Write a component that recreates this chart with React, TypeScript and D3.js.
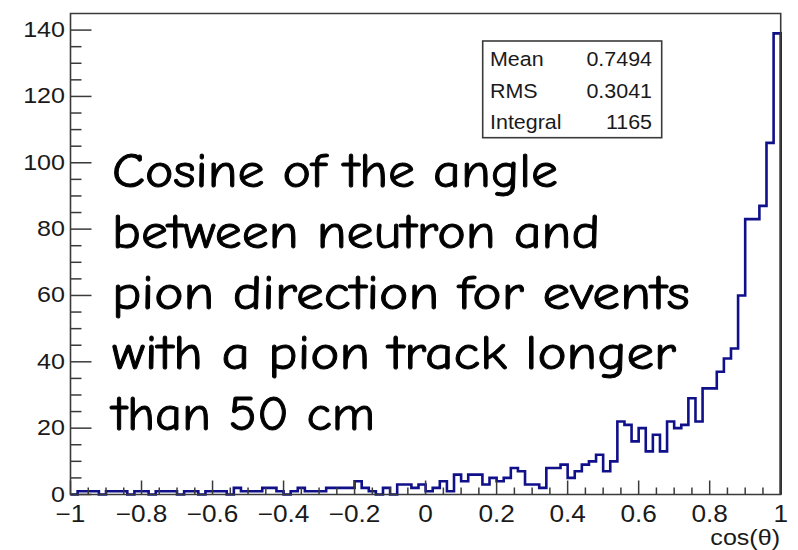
import React from "react";
import * as d3 from "d3";

// Histogram of cos(theta): 100 bins on [-1, 1]
const binLow = -1;
const binHigh = 1;
const counts: number[] = [
  // -1.0 .. -0.6
  0, 1, 1, 1, 0, 1, 1, 1, 0, 1, 1, 0, 1, 1, 1, 0, 1, 1, 0, 1,
  // -0.6 .. -0.2
  1, 1, 0, 2, 1, 1, 1, 2, 2, 1, 0, 1, 2, 1, 1, 1, 2, 2, 2, 2,
  // -0.2 .. 0.2
  4, 2, 1, 0, 2, 0, 3, 3, 2, 3, 1, 2, 4, 1, 6, 4, 6, 6, 3, 5,
  // 0.2 .. 0.6
  4, 5, 8, 7, 3, 3, 2, 8, 8, 9, 5, 7, 9, 10, 12, 7, 10, 22, 21, 16,
  // 0.6 .. 1.0
  20, 13, 18, 13, 22, 20, 21, 29, 22, 32, 32, 37, 41, 44, 60, 83, 83, 87, 106, 139,
];

const xMajorTicks = [-1, -0.8, -0.6, -0.4, -0.2, 0, 0.2, 0.4, 0.6, 0.8, 1];
const xTickLabels = ["\u22121", "\u22120.8", "\u22120.6", "\u22120.4", "\u22120.2", "0", "0.2", "0.4", "0.6", "0.8", "1"];
const yMajorTicks = [0, 20, 40, 60, 80, 100, 120, 140];
const yTickLabels = ["0", "20", "40", "60", "80", "100", "120", "140"];
const yMax = 145;

const statNames = ["Mean", "RMS", "Integral"];
const statValues = ["0.7494", "0.3041", "1165"];

const noteLines = [
  "Cosine of the angle",
  "between neutron and",
  "pion direction for events",
  "with a pion track longer",
  "than 50 cm",
];
const noteWidths = [446, 488, 578, 564, 263];

const W = 798;
const H = 550;
const frame = { left: 70.5, right: 780.7, top: 13.5, bottom: 494.5 };

const axisFont = "'Liberation Sans', Arial, Helvetica, sans-serif";
const noteFont = "'Comic Sans MS', 'Comic Neue', 'DejaVu Sans', sans-serif";
const histColor = "#10108a";
const frameColor = "#3a3a3a";
const textColor = "#1a1a1a";
const stretch = 1.14;

export default function App() {
  const x = d3.scaleLinear().domain([binLow, binHigh]).range([frame.left, frame.right]);
  const y = d3.scaleLinear().domain([0, yMax]).range([frame.bottom, frame.top]);

  const nBins = counts.length;
  const binW = (binHigh - binLow) / nBins;
  const pts: [number, number][] = [[x(binLow), y(0)]];
  counts.forEach((c, i) => {
    const lo = binLow + i * binW;
    pts.push([x(lo), y(c)]);
    pts.push([x(lo + binW), y(c)]);
  });
  pts.push([x(binHigh), y(0)]);
  const histPath = d3.line()(pts) ?? "";

  const xMinor = d3.range(0, 41).map((k) => -1 + k * 0.05);
  const yMinor = d3.range(0, 29).map((k) => k * 5);

  const box = { x0: 482.7, y0: 41, x1: 661.7, y1: 137.7 };

  return (
    <svg
      width={W}
      height={H}
      viewBox={`0 0 ${W} ${H}`}
      style={{ position: "absolute", left: 0, top: 0, background: "#fff" }}
    >
      <rect x={0} y={0} width={W} height={H} fill="#fff" />

      {/* histogram outline */}
      <path d={histPath} fill="none" stroke={histColor} strokeWidth={2.6} strokeLinejoin="miter" />

      {/* frame */}
      <path
        d={`M${frame.left},${frame.bottom}V${frame.top}H${frame.right}V${frame.bottom}Z`}
        fill="none"
        stroke={frameColor}
        strokeWidth={1.6}
      />

      {/* x ticks */}
      {xMinor.map((v, i) => {
        const major = i % 4 === 0;
        return (
          <line
            key={`xm${i}`}
            x1={x(v)}
            x2={x(v)}
            y1={frame.bottom}
            y2={frame.bottom - (major ? 14 : 7)}
            stroke={frameColor}
            strokeWidth={1.5}
          />
        );
      })}
      {/* y ticks */}
      {yMinor.map((v, i) => {
        const major = i % 4 === 0;
        return (
          <line
            key={`ym${i}`}
            x1={frame.left}
            x2={frame.left + (major ? 21 : 11)}
            y1={y(v)}
            y2={y(v)}
            stroke={frameColor}
            strokeWidth={1.5}
          />
        );
      })}

      {/* x tick labels */}
      {xMajorTicks.map((v, i) => (
        <text
          key={`xl${i}`}
          transform={`translate(${x(v)},522) scale(${stretch},1)`}
          textAnchor="middle"
          fontFamily={axisFont}
          fontSize={23}
          fill={textColor}
        >
          {xTickLabels[i]}
        </text>
      ))}
      {/* y tick labels */}
      {yMajorTicks.map((v, i) => (
        <text
          key={`yl${i}`}
          transform={`translate(65,${y(v) + 7}) scale(${stretch},1)`}
          textAnchor="end"
          fontFamily={axisFont}
          fontSize={22}
          fill={textColor}
        >
          {yTickLabels[i]}
        </text>
      ))}

      {/* x axis title */}
      <text
        transform={`translate(780,545) scale(${stretch},1)`}
        textAnchor="end"
        fontFamily={axisFont}
        fontSize={22}
        fill={textColor}
      >
        cos(θ)
      </text>

      {/* statistics box */}
      <rect
        x={box.x0}
        y={box.y0}
        width={box.x1 - box.x0}
        height={box.y1 - box.y0}
        fill="#fff"
        stroke={frameColor}
        strokeWidth={1.6}
      />
      {statNames.map((name, i) => (
        <g key={`st${i}`}>
          <text
            transform={`translate(490,${66 + i * 31.5}) scale(1.1,1)`}
            fontFamily={axisFont}
            fontSize={19.5}
            fill={textColor}
          >
            {name}
          </text>
          <text
            transform={`translate(652,${66 + i * 31.5}) scale(1.1,1)`}
            textAnchor="end"
            fontFamily={axisFont}
            fontSize={19.5}
            fill={textColor}
          >
            {statValues[i]}
          </text>
        </g>
      ))}

      {/* annotation */}
      {noteLines.map((line, i) => (
        <text
          key={`nt${i}`}
          x={112}
          y={187 + i * 60.75}
          fontFamily={noteFont}
          fontSize={48}
          fill="#000"
          stroke="#000"
          strokeWidth={0.9}
          textLength={noteWidths[i]}
          lengthAdjust="spacingAndGlyphs"
        >
          {line}
        </text>
      ))}
    </svg>
  );
}
